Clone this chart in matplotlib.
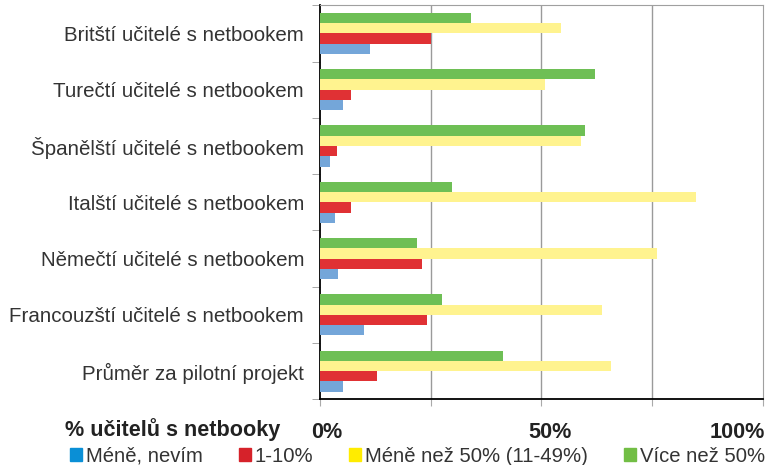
import numpy as np
import matplotlib
matplotlib.use('Agg')
from matplotlib import pyplot as plt
from matplotlib.patches import Patch

plt.rcParams['font.family'] = ['Liberation Sans', 'DejaVu Sans']

categories = ['Britští učitelé s netbookem', 'Turečtí učitelé s netbookem',
              'Španělští učitelé s netbookem', 'Italští učitelé s netbookem',
              'Němečtí učitelé s netbookem', 'Francouzští učitelé s netbookem',
              'Průměr za pilotní projekt']
series_names = ['Méně, nevím', '1-10%', 'Méně než 50% (11-49%)', 'Více než 50%']
mene_nevim = [11.3, 5.2, 2.3, 3.4, 4.0, 9.9, 5.2]
od1_10 = [25.0, 6.9, 3.8, 6.9, 23.0, 24.1, 12.9]
mene_50 = [54.4, 50.8, 59.0, 84.9, 76.0, 63.6, 65.7]
vice_50 = [34.1, 62.1, 59.9, 29.8, 22.0, 27.5, 41.3]

bar_cols = ['#74a6d9', '#e03134', '#fff38f', '#6ebf55']
legend_cols = ['#0a8fd6', '#d6222a', '#ffec00', '#72be45']

fig = plt.figure(figsize=(7.66, 4.65), dpi=100)
ax = fig.add_axes([0.4178, 0.1413, 0.578, 0.8473])

y = np.arange(len(categories))
h = 0.183
offsets = [0.275, 0.092, -0.092, -0.275]
for vals, off, col in zip([mene_nevim, od1_10, mene_50, vice_50], offsets, bar_cols):
    ax.barh(y + off, vals, height=h, color=col, zorder=3)

ax.set_xlim(0, 100)
ax.set_ylim(6.5, -0.5)

for gx in [25, 50, 75]:
    ax.axvline(gx, color='#9a9a9a', lw=1, zorder=1)

for s in ['top', 'right']:
    ax.spines[s].set_color('#a0a0a0')
for s in ['left', 'bottom']:
    ax.spines[s].set_color('black')
    ax.spines[s].set_linewidth(1.3)

ax.set_yticks(y)
ax.set_yticklabels(categories, fontsize=14.8, color='#333333')
ax.set_yticks(np.arange(-0.5, 7, 1), minor=True)
ax.tick_params(axis='y', which='major', length=0, pad=11.5)
ax.tick_params(axis='y', which='minor', length=6, color='#999999')
ax.set_xticks([0, 25, 50, 75, 100])
ax.set_xticklabels([])
ax.tick_params(axis='x', length=5, color='#aaaaaa')

tr = ax.get_xaxis_transform()
bold = dict(transform=tr, va='center', fontsize=15.6, fontweight='bold', color='#222222')
ax.text(1.5, -0.085, '0%', ha='center', **bold)
ax.text(52, -0.085, '50%', ha='center', **bold)
ax.text(100.6, -0.085, '100%', ha='right', **bold)
fig.text(280 / 766, 1 - 430 / 465, '% učitelů s netbooky', ha='right', va='center',
         fontsize=15.6, fontweight='bold', color='#222222')

handles = [Patch(color=c, label=n) for c, n in zip(legend_cols, series_names)]
fig.legend(handles=handles, loc='center left', bbox_to_anchor=(70 / 766, 1 - 456 / 465), ncol=4,
           frameon=False, fontsize=14.6, handlelength=0.6, handleheight=0.6,
           handletextpad=0.2, columnspacing=1.75, labelcolor='#333333',
           borderaxespad=0, borderpad=0)

fig.savefig('out.png', dpi=100)
